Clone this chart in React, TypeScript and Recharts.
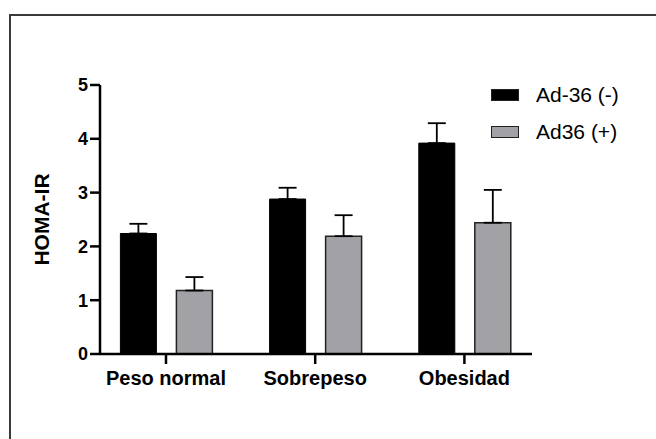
import React from "react";
import { BarChart, Bar, XAxis, YAxis, ErrorBar, Legend } from "recharts";

const categories = ["Peso normal", "Sobrepeso", "Obesidad"];
const negValues = [2.24, 2.88, 3.92];
const negErrors = [0.18, 0.21, 0.37];
const posValues = [1.18, 2.19, 2.44];
const posErrors = [0.25, 0.39, 0.61];
const yTicks = [0, 1, 2, 3, 4, 5];

const data = categories.map((name, i) => ({
    name,
    neg: negValues[i],
    negErr: [0, negErrors[i]],
    pos: posValues[i],
    posErr: [0, posErrors[i]],
}));

const FONT = '"Liberation Sans", Arial, Helvetica, sans-serif';

function LegendBox({ payload }: any) {
    return (
        <div>
            {(payload || []).map((p: any) => (
                <div
                    key={p.value}
                    style={{ display: "flex", alignItems: "center", height: 36.5 }}
                >
                    <div
                        style={{
                            width: 28,
                            height: 12,
                            background: p.color,
                            border: "1.5px solid #222",
                            boxSizing: "border-box",
                            marginRight: 17,
                        }}
                    />
                    <span style={{ fontSize: 21, color: "#000", whiteSpace: "nowrap" }}>
                        {p.value}
                    </span>
                </div>
            ))}
        </div>
    );
}

export default function App() {
    return (
        <div
            style={{
                position: "relative",
                width: 656,
                height: 439,
                overflow: "hidden",
                background: "#fff",
                fontFamily: FONT,
            }}
        >
            <style>{"body{margin:0;overflow:hidden}"}</style>

            {/* outer frame */}
            <div
                style={{
                    position: "absolute",
                    left: 9,
                    top: 14,
                    width: 700,
                    height: 500,
                    border: "2px solid #3a3a3a",
                }}
            />

            <div style={{ position: "absolute", left: 0, top: 0 }}>
                <BarChart
                    width={656}
                    height={439}
                    data={data}
                    margin={{ top: 85, right: 124, bottom: 55, left: 40 }}
                    barSize={36}
                    barGap={20}
                >
                    <XAxis
                        dataKey="name"
                        height={30}
                        interval={0}
                        padding={{ left: -8.6, right: -7 }}
                        tickSize={10}
                        tickMargin={7}
                        axisLine={{ stroke: "#000", strokeWidth: 2.5 }}
                        tickLine={{ stroke: "#000", strokeWidth: 2.5 }}
                        tick={{ fill: "#000", fontSize: 20, fontWeight: 700 }}
                    />

                    <YAxis
                        width={60}
                        domain={[0, 5]}
                        ticks={yTicks}
                        tickSize={10}
                        tickMargin={2}
                        axisLine={{ stroke: "#000", strokeWidth: 2.5 }}
                        tickLine={{ stroke: "#000", strokeWidth: 2.5 }}
                        tick={{ fill: "#000", fontSize: 18, fontWeight: 700 }}
                        label={{
                            value: "HOMA-IR",
                            angle: -90,
                            position: "insideLeft",
                            offset: 2,
                            style: {
                                textAnchor: "middle",
                                fill: "#000",
                                fontSize: 21,
                                fontWeight: 700,
                            },
                        }}
                    />

                    <Legend
                        layout="vertical"
                        align="center"
                        verticalAlign="middle"
                        content={<LegendBox />}
                        wrapperStyle={{
                            position: "absolute",
                            top: 77,
                            left: 491,
                            width: "auto",
                            height: "auto",
                        }}
                    />

                    {/* Ad-36 negative */}
                    <Bar
                        dataKey="neg"
                        name="Ad-36 (-)"
                        fill="#000"
                        stroke="#000"
                        strokeWidth={1}
                        isAnimationActive={false}
                    >
                        <ErrorBar
                            dataKey="negErr"
                            direction="y"
                            width={9}
                            stroke="#000"
                            strokeWidth={1.8}
                        />
                    </Bar>

                    {/* Ad36 positive */}
                    <Bar
                        dataKey="pos"
                        name="Ad36 (+)"
                        fill="#a2a2a6"
                        stroke="#222"
                        strokeWidth={1.5}
                        isAnimationActive={false}
                    >
                        <ErrorBar
                            dataKey="posErr"
                            direction="y"
                            width={9}
                            stroke="#000"
                            strokeWidth={1.8}
                        />
                    </Bar>
                </BarChart>
            </div>
        </div>
    );
}
